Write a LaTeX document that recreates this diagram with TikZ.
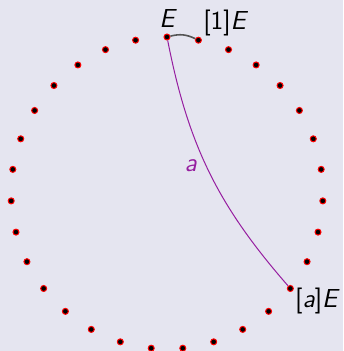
\documentclass[tikz,border=0pt]{standalone}
\usepackage{fontspec}
\usetikzlibrary{positioning}

\definecolor{bgcol}{RGB}{229,229,240}
\definecolor{grpcol}{RGB}{150,30,160}
\definecolor{arccol}{RGB}{85,85,85}

\begin{document}
\begin{tikzpicture}[
  font=\sffamily\fontsize{13}{15}\selectfont,
  pnt/.style={circle,draw=red,fill=black,line width=0.5pt,
              inner sep=0pt,minimum size=3pt},
  lbl/.style={inner sep=1pt},
  mult/.style={draw=grpcol,line width=0.5pt},
  step1/.style={draw=arccol,line width=0.8pt},
]
  \fill[bgcol] (-83.5pt,-79pt) rectangle (88pt,96.5pt);
  \useasboundingbox (-83.5pt,-79pt) rectangle (88pt,96.5pt);

  % the 31 points of the group
  \foreach \i in {0,...,30}
    \node[pnt] (p\i) at ({90-\i*360/31}:78pt) {};

  \node[lbl,above=2pt of p0] (lE) {\itshape E};
  \node[lbl,above right=-0.5pt and 0pt of p1] (l1) {[1]\itshape E};
  \node[lbl,below right=-2.5pt and 0pt of p11] (la) {[\itshape a\upshape]\itshape E};

  \draw[step1] (p0) to[bend left=20] (p1);
  \draw[mult] (p0) to[bend right=15]
    node[pos=0.47,left=1pt,text=grpcol] (lm) {\itshape a} (p11);
\end{tikzpicture}
\end{document}
